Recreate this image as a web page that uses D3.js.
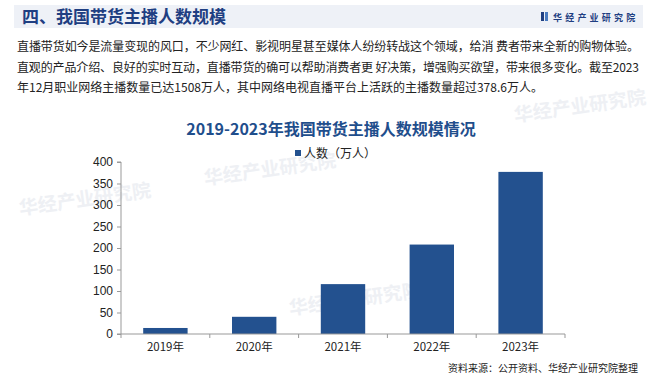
<!DOCTYPE html>
<html><head><meta charset="utf-8">
<script src="https://cdn.jsdelivr.net/npm/d3@7"></script>
<style>body{margin:0;background:#fff}svg{display:block}</style>
</head><body><svg id="c" width="660" height="375"></svg>
<script>
const years = ["2019年","2020年","2021年","2022年","2023年"];
const values = [14, 40, 116, 208, 377];
const yTicks = [0,50,100,150,200,250,300,350,400];
const seriesName = "人数（万人）";
const headerTitle = "四、我国带货主播人数规模";
const chartTitle = "2019-2023年我国带货主播人数规模情况";
const paragraph = [
  "直播带货如今是流量变现的风口，不少网红、影视明星甚至媒体人纷纷转战这个领域，给消 费者带来全新的购物体验。",
  "直观的产品介绍、良好的实时互动，直播带货的确可以帮助消费者更 好决策，增强购买欲望，带来很多变化。截至2023",
  "年12月职业网络主播数量已达1508万人，其中网络电视直播平台上活跃的主播数量超过378.6万人。"
];
const source = "资料来源：公开资料、华经产业研究院整理";
const brand = "华经产业研究院";

const svg = d3.select("#c");
const cjk = "'Noto Sans CJK SC','Noto Sans',sans-serif";
const blue = "#23518f";

// faint watermarks
const wm = [[205,185],[290,315],[515,122],[20,215]];
wm.forEach(([x,y])=>{
  svg.append("text").attr("x",x).attr("y",y).attr("transform",`rotate(-8 ${x} ${y})`)
    .attr("font-family",cjk).attr("font-size",19).attr("font-weight",700)
    .attr("fill","#eef0f4").text(brand);
});

// header band
svg.append("rect").attr("x",14).attr("y",5).attr("width",629).attr("height",23).attr("fill","#eef1f7");
svg.append("text").attr("x",22).attr("y",23).attr("font-family",cjk).attr("font-size",17)
  .attr("font-weight",700).attr("fill","#1f3f82").text(headerTitle);
// logo
svg.append("rect").attr("x",541).attr("y",12).attr("width",3).attr("height",9).attr("fill","#1f3f82");
svg.append("rect").attr("x",545).attr("y",12).attr("width",3).attr("height",9).attr("fill","#4a7bc0");
svg.append("text").attr("x",553).attr("y",20.5).attr("font-family",cjk).attr("font-size",9)
  .attr("font-weight",700).attr("letter-spacing",3.2).attr("fill","#1f3f82").text(brand);

// paragraph
paragraph.forEach((t,i)=>{
  const tx = svg.append("text").attr("x",17).attr("y",51+i*20.5).attr("font-family",cjk)
    .attr("font-size",12).attr("fill","#222").text(t);
  if(i<2) tx.attr("textLength",622).attr("lengthAdjust","spacing");
});

// chart title & legend
svg.append("text").attr("x",331).attr("y",135).attr("text-anchor","middle").attr("font-family",cjk)
  .attr("font-size",16).attr("font-weight",700).attr("fill","#1f4e8c").text(chartTitle);
svg.append("rect").attr("x",295).attr("y",150).attr("width",6).attr("height",6).attr("fill",blue);
svg.append("text").attr("x",304).attr("y",157.5).attr("font-family",cjk).attr("font-size",12)
  .attr("fill","#222").text(seriesName);

// scales
const x = d3.scaleBand().domain(years).range([121,565]).paddingInner(0.5).paddingOuter(0.25);
const y = d3.scaleLinear().domain([0,400]).range([334,162]);

svg.selectAll(".bar").data(values).join("rect")
  .attr("x",(d,i)=>x(years[i])).attr("y",d=>y(d))
  .attr("width",x.bandwidth()).attr("height",d=>y(0)-y(d)).attr("fill",blue);

// y axis
const ya = svg.append("g").attr("transform","translate(121,0)")
  .call(d3.axisLeft(y).tickValues(yTicks).tickSize(4).tickPadding(4));
ya.select(".domain").attr("stroke","#999").attr("d","M-4,162H0V334H-4");
ya.selectAll(".tick line").attr("stroke","#999");
ya.selectAll("text").attr("font-family","'Liberation Sans',Arial,sans-serif").attr("font-size",12).attr("fill","#222");

// x axis
const xa = svg.append("g").attr("transform","translate(0,334)")
  .call(d3.axisBottom(x).tickSize(0).tickPadding(9));
xa.select(".domain").attr("stroke","#999").attr("d","M121,0H565");
xa.selectAll("text").attr("font-family",cjk).attr("font-size",11.5).attr("fill","#222");
const step = x.step();
const bounds = d3.range(6).map(i=>121+i*step);
svg.append("g").selectAll("line").data(bounds).join("line")
  .attr("x1",d=>d).attr("x2",d=>d).attr("y1",334).attr("y2",338).attr("stroke","#999");

// source
svg.append("text").attr("x",638).attr("y",372).attr("text-anchor","end").attr("font-family",cjk)
  .attr("font-size",10).attr("fill","#222").text(source);
</script></body></html>
